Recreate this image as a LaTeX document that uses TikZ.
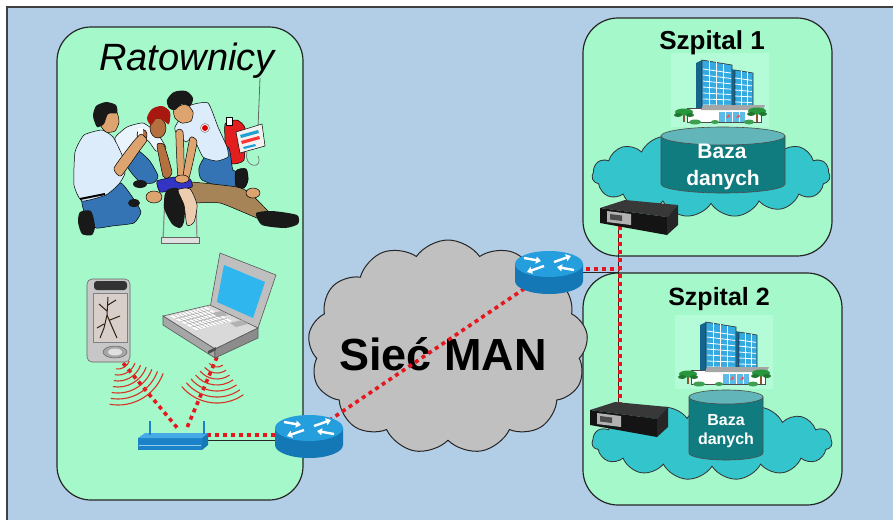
\documentclass[tikz,border=0pt]{standalone}
\usepackage{fontspec}
\setmainfont{Liberation Sans}
\usetikzlibrary{shapes.symbols,arrows.meta}

\definecolor{bgblue}{RGB}{178,205,230}
\definecolor{panelgreen}{RGB}{164,248,202}
\definecolor{paleback}{RGB}{180,252,216}
\definecolor{cloudgray}{RGB}{192,192,192}
\definecolor{tealcloud}{RGB}{52,196,204}
\definecolor{dbbody}{RGB}{16,124,128}
\definecolor{dbtop}{RGB}{98,182,186}
\definecolor{linkred}{RGB}{230,22,30}
\definecolor{wavered}{RGB}{214,52,36}
\definecolor{routertop}{RGB}{36,158,220}
\definecolor{routerside}{RGB}{20,120,182}
\definecolor{aptop}{RGB}{70,170,230}
\definecolor{apfront}{RGB}{28,130,200}
\definecolor{glass}{RGB}{52,170,225}
\definecolor{glassdark}{RGB}{20,100,140}
\definecolor{treegreen}{RGB}{40,150,60}
\definecolor{shirt}{RGB}{220,236,250}
\definecolor{pants}{RGB}{52,116,180}
\definecolor{skin}{RGB}{222,164,112}
\definecolor{skindark}{RGB}{180,112,62}
\definecolor{redhair}{RGB}{168,24,16}
\definecolor{patshirt}{RGB}{52,52,196}
\definecolor{patpants}{RGB}{166,132,88}
\definecolor{bagred}{RGB}{226,30,30}
\definecolor{screenblue}{RGB}{48,182,238}
\definecolor{pdascreen}{RGB}{216,206,202}

\tikzset{
  panel/.style={draw=black!85, line width=1.2pt, fill=panelgreen, rounded corners=35pt},
  redlink/.style={draw=linkred, line width=3.6pt, dash pattern=on 4pt off 4pt},
  wireline/.style={draw=black!85, line width=1pt},
  wave/.style={draw=wavered, line width=1.1pt},
  ink/.style={draw=black, line width=0.5pt, line join=round},
  title/.style={anchor=base, inner sep=0pt},
  dbtext/.style={anchor=base, inner sep=0pt, text=white, font=\bfseries},
  ciscorouter/.pic={
    \fill[routerside] (-34,0) -- (-34,17) arc[start angle=180,end angle=0,x radius=34,y radius=13] -- (34,0) -- cycle;
    \fill[routertop] (0,0) ellipse[x radius=34,y radius=13];
    \begin{scope}[white, line width=2.4pt, -{Triangle[length=5pt,width=7pt]}]
      \draw (-25,-6) -- (-8,-3);
      \draw (5,-2) -- (22,-8);
      \draw (-5,2) -- (-22,8);
      \draw (25,6) -- (8,3);
    \end{scope}
  },
  netswitch/.pic={
    \fill[black!78] (0,0) -- (25,-8) -- (78,-3) -- (67,9) -- cycle;
    \fill[black!92] (0,0) -- (67,9) -- (67,27) -- (0,15) -- cycle;
    \fill[black!85] (67,9) -- (78,-3) -- (78,17) -- (67,27) -- cycle;
    \fill[black!30] (7,3) -- (31,6) -- (31,17) -- (7,14) -- cycle;
    \fill[black!70] (10,6) -- (22,7.5) -- (22,13) -- (10,11.5) -- cycle;
  },
  hospital/.pic={
    \fill[paleback] (-2,-2) rectangle (96,72);
    \fill[glassdark] (23,8) -- (29,5) -- (29,53) -- (23,53) -- cycle;
    \draw[fill=glass, draw=black!80, line width=0.6pt] (29,5) -- (59,10) -- (59,53) -- (29,53) -- cycle;
    \foreach \y in {14,20,...,50} {
      \draw[white, line width=0.8pt] (30,\y) -- (58,{\y+5*(53-\y)/48});
    }
    \foreach \x in {36,43,50} {
      \draw[white, line width=0.8pt] (\x,{5+5*(\x-29)/30}) -- (\x,53);
    }
    \fill[glassdark] (59,14) -- (62,15) -- (62,53) -- (59,53) -- cycle;
    \draw[fill=glass, draw=black!80, line width=0.6pt] (62,15) -- (80,18) -- (80,53) -- (62,53) -- cycle;
    \foreach \y in {23,29,...,50} {
      \draw[white, line width=0.8pt] (62,\y) -- (79,{\y+3*(53-\y)/38});
    }
    \foreach \x in {68,74} {
      \draw[white, line width=0.8pt] (\x,{15+3*(\x-62)/18}) -- (\x,53);
    }
    \draw[fill=white, draw=black!70, line width=0.5pt] (14,53) rectangle (88,67);
    \fill[black!35] (30,50) -- (92,50) -- (90,55) -- (28,55) -- cycle;
    \fill[glass!80!white] (46,57) rectangle (72,67);
    \foreach \x in {52,59,66} {
      \draw[white, line width=0.6pt] (\x,57) -- (\x,67);
    }
    \fill[red!70] (53,63) -- (56,59) -- (57,62) -- cycle;
    \fill[red!70] (63,63) -- (66,59) -- (67,62) -- cycle;
    \draw[brown!70!black, line width=1.2pt] (11,67) -- (11,58);
    \fill[treegreen] (11,57) ellipse[x radius=9, y radius=3.5];
    \fill[treegreen!80!black] (5,60) ellipse[x radius=4, y radius=2];
    \fill[treegreen!80!black] (17,60) ellipse[x radius=4, y radius=2];
    \draw[brown!70!black, line width=1.2pt] (84,67) -- (84,57);
    \fill[treegreen] (84,56) ellipse[x radius=9, y radius=3.5];
    \fill[treegreen!80!black] (78,59) ellipse[x radius=4, y radius=2];
    \fill[treegreen!80!black] (90,59) ellipse[x radius=4, y radius=2];
    \fill[treegreen!90] (22,67) ellipse[x radius=6, y radius=2.5];
    \fill[treegreen!90] (42,67) ellipse[x radius=4, y radius=2];
    \fill[treegreen!90] (76,67) ellipse[x radius=5, y radius=2.5];
  }
}

\begin{document}
\begin{tikzpicture}[x=1pt, y=-1pt]
\useasboundingbox (0,0) rectangle (893,520);

% page and frame
\fill[white] (0,0) rectangle (893,520);
\fill[bgblue] (7,7) rectangle (893,520);
\draw[black!75, line width=1.5pt] (7,520) -- (7,7) -- (893,7);

% the three zones
\draw[panel, rounded corners=34pt] (57,27) rectangle (303,500);
\draw[panel] (583,18) rectangle (832,256);
\draw[panel] (583,273) rectangle (842,505);

% hospital buildings
\pic at (673,55) {hospital};
\pic at (677,317) {hospital};

% hospital networks with their databases
\node[cloud, cloud puffs=15, cloud puff arc=120, draw=black!80, line width=0.8pt, fill=tealcloud,
      minimum width=238pt, minimum height=84pt, inner sep=0pt] (lan1) at (711,175) {};
\draw[fill=dbbody, draw=black!70, line width=0.6pt] (661,136) -- (661,184)
      arc[start angle=180,end angle=0,x radius=62,y radius=9] -- (785,136) -- cycle;
\draw[fill=dbtop, draw=black!70, line width=0.6pt] (723,136) ellipse[x radius=62, y radius=9];
\node[dbtext, font=\bfseries\fontsize{21}{24}\selectfont] (db1a) at (722,158) {Baza};
\node[dbtext, font=\bfseries\fontsize{21}{24}\selectfont] (db1b) at (723,185) {danych};

\node[cloud, cloud puffs=15, cloud puff arc=120, draw=black!80, line width=0.8pt, fill=tealcloud,
      minimum width=240pt, minimum height=76pt, inner sep=0pt] (lan2) at (712,442) {};
\draw[fill=dbbody, draw=black!70, line width=0.6pt] (689,397) -- (689,453)
      arc[start angle=180,end angle=0,x radius=37,y radius=7] -- (763,397) -- cycle;
\draw[fill=dbtop, draw=black!70, line width=0.6pt] (726,397) ellipse[x radius=37, y radius=7];
\node[dbtext, font=\bfseries\fontsize{16}{19}\selectfont] (db2a) at (726,425) {Baza};
\node[dbtext, font=\bfseries\fontsize{16}{19}\selectfont] (db2b) at (726,444) {danych};

% metropolitan network
\node[cloud, cloud puffs=13, cloud puff arc=110, draw=black!85, line width=1pt, fill=cloudgray,
      minimum width=280pt, minimum height=214pt, inner sep=0pt] (man) at (448,347) {};
\node[title, font=\bfseries\fontsize{45}{50}\selectfont] (mantext) at (443,370) {Sieć MAN};

% connection points
\coordinate (pdatx) at (118,357);
\coordinate (laptx) at (217,357);
\coordinate (aprx1) at (179,430);
\coordinate (aprx2) at (186,430);
\coordinate (apport) at (207,435);
\coordinate (r1port) at (280,435);
\coordinate (apwire) at (207,440);
\coordinate (r1wire) at (278,440);
\coordinate (r1) at (309,434);
\coordinate (r2) at (549,272);
\coordinate (r2port) at (578,269);
\coordinate (hub) at (620,269);
\coordinate (r2wire) at (578,272);
\coordinate (hubwire) at (618,272);
\coordinate (sw1port) at (620,226);
\coordinate (sw2port) at (620,410);
\coordinate (sw1wire) at (618,226);
\coordinate (sw2wire) at (618,410);

% links
\draw[wireline] (apwire) -- (r1wire);
\draw[wireline] (r2wire) -- (hubwire);
\draw[wireline] (sw1wire) -- (sw2wire);
\draw[redlink] (pdatx) -- (aprx1);
\draw[redlink] (laptx) -- (aprx2);
\draw[redlink] (apport) -- (r1port);
\draw[redlink] (r1) -- (r2);
\draw[redlink] (r2port) -- (hub);
\draw[redlink] (sw1port) -- (sw2port);

% radio waves
\foreach \r in {12,18,...,48} {
  \draw[wave] (pdatx) ++(20:\r) arc[start angle=20, end angle=100, radius=\r];
}
\foreach \r in {10,16,...,46} {
  \draw[wave] (laptx) ++(55:\r) arc[start angle=55, end angle=140, radius=\r];
}

% routers and switches
\pic at (309,428) {ciscorouter};
\pic at (549,264) {ciscorouter};
\pic at (600,208) {netswitch};
\pic at (590,410) {netswitch};

% wireless access point
\fill[apfront] (138,438) -- (202,438) -- (202,450) -- (138,450) -- cycle;
\fill[aptop] (145,433) -- (208,433) -- (202,438) -- (138,438) -- cycle;
\fill[routerside] (202,438) -- (208,433) -- (208,445) -- (202,450) -- cycle;
\draw[aptop!60!white, line width=0.8pt] (139,445) -- (201,445);
\draw[apfront, line width=1.4pt] (150,435) -- (150,421);
\draw[apfront, line width=1.4pt] (204,434) -- (204,421);

% handheld
\draw[fill=black!22, draw=black!60, line width=0.6pt, rounded corners=5pt] (87,279) rectangle (130,362);
\fill[black!80, rounded corners=3pt] (94,281) rectangle (127,290);
\draw[fill=pdascreen, draw=black!50, line width=0.5pt] (93,293) rectangle (127,342);
\draw[black!75!brown, line width=1pt, line join=round]
  (108,297) -- (107,315) -- (104,328) -- (100,338)
  (107,315) -- (113,329) -- (117,338)
  (104,324) -- (97,328)
  (108,305) -- (116,300)
  (107,311) -- (99,304)
  (110,320) -- (120,316);
\draw[fill=black!35, draw=black!60, line width=0.5pt] (115,352) ellipse[x radius=12, y radius=6];
\fill[black!12] (115,352) ellipse[x radius=7, y radius=3.5];

% laptop
\draw[fill=black!25, draw=black!65, line width=0.6pt] (220,253) -- (276,275) -- (258,328) -- (210,308) -- cycle;
\fill[screenblue] (224,265) -- (265,282) -- (253,318) -- (217,302) -- cycle;
\draw[fill=black!15, draw=black!65, line width=0.6pt] (163,316) -- (210,305) -- (258,328) -- (215,349) -- cycle;
\draw[fill=black!35, draw=black!65, line width=0.6pt] (163,316) -- (215,349) -- (215,358) -- (163,325) -- cycle;
\draw[fill=black!45, draw=black!65, line width=0.6pt] (215,349) -- (258,328) -- (258,338) -- (215,358) -- cycle;
\fill[white] (170,316) -- (206,307) -- (232,321) -- (196,330) -- cycle;
\foreach \t in {0.2,0.4,0.6,0.8} {
  \draw[black!35, line width=0.5pt] ({170+26*\t},{316+14*\t}) -- ({206+26*\t},{307+14*\t});
}
\foreach \s in {0.1,0.2,...,0.9} {
  \draw[black!35, line width=0.5pt] ({170+36*\s},{316-9*\s}) -- ({196+36*\s},{330-9*\s});
}
\fill[black!30] (212,313) -- (222,311) -- (228,315) -- (218,317) -- cycle;
\fill[black!30] (230,323) -- (242,320) -- (248,324) -- (236,327) -- cycle;
\fill[black!70] (208,351) -- (216,347) -- (216,350) -- (208,354) -- cycle;

% rescue scene: kit with antenna
\draw[black!60, line width=0.8pt] (260,78) -- (258,128);
\draw[ink, fill=bagred] plot[smooth cycle, tension=0.3] coordinates {(225,124) (237,120) (245,128) (244,160) (232,164) (226,155)};
\draw[ink, fill=white] (226,117) rectangle (232,125);
\draw[ink, fill=black!5] (236,132) -- (262,124) -- (265,146) -- (240,153) -- cycle;
\fill[cyan!70!teal] (240,135) -- (258,130) -- (259,133) -- (241,138) -- cycle;
\fill[red!80] (241,141) -- (259,136) -- (260,139) -- (242,144) -- cycle;
\fill[cyan!70!teal] (243,147) -- (255,144) -- (256,146) -- (244,149) -- cycle;
\draw[black!50, line width=0.8pt] (247,152) .. controls (243,168) and (264,170) .. (258,156);

% medic doing compressions
\draw[ink, fill=pants] plot[smooth cycle, tension=0.4] coordinates {(206,156) (228,147) (233,170) (244,173) (244,187) (227,188) (202,180) (199,168)};
\draw[ink, fill=black!90] plot[smooth cycle, tension=0.5] coordinates {(236,171) (246,169) (248,180) (244,188) (236,186)};
\draw[ink, fill=shirt] plot[smooth cycle, tension=0.3] coordinates {(175,127) (189,106) (208,103) (218,127) (227,147) (228,157) (217,161) (203,157) (193,137) (186,142) (177,134)};
\draw[draw=black!60, fill=white] (205,128) circle[radius=4.5];
\fill[red!85!black] (205,128) circle[radius=3];
\draw[ink, fill=skin] plot[smooth cycle, tension=0.4] coordinates {(174,109) (186,104) (193,112) (191,121) (182,123) (175,118)};
\fill[black!90] plot[smooth cycle, tension=0.5] coordinates {(167,100) (174,92) (186,91) (193,98) (190,106) (182,104) (175,110) (169,108)};

% medic with red hair
\draw[ink, fill=pants] plot[smooth cycle, tension=0.4] coordinates {(124,155) (134,148) (149,160) (158,176) (153,183) (140,182) (128,168)};
\fill[black!90] (140,184) ellipse[x radius=7, y radius=4];
\draw[ink, fill=shirt!60!white] plot[smooth cycle, tension=0.3] coordinates {(115,138) (127,127) (143,123) (157,133) (166,148) (156,151) (147,140) (134,152) (120,155)};
\draw[ink, fill=skindark] plot[smooth cycle, tension=0.3] coordinates {(157,145) (164,145) (172,172) (168,178) (163,176)};
\draw[ink, fill=skindark] (158,128) ellipse[x radius=8, y radius=10];
\fill[redhair] plot[smooth cycle, tension=0.5] coordinates {(147,118) (152,109) (162,106) (170,112) (169,124) (164,121) (157,118) (151,125)};
\draw[ink, fill=skindark] (142,135) ellipse[x radius=5, y radius=6];
\fill[white] (138,128) rectangle (143,137);

% patient
\draw[ink, fill=patpants] plot[smooth cycle, tension=0.3] coordinates {(170,187) (190,182) (237,187) (250,193) (267,210) (273,217) (273,222) (257,218) (220,203) (190,203) (177,200)};
\fill[black!90] plot[smooth cycle, tension=0.4] coordinates {(256,213) (272,211) (297,215) (298,224) (285,228) (262,225)};
\draw[ink, fill=patshirt] plot[smooth cycle, tension=0.3] coordinates {(157,181) (175,177) (190,179) (192,187) (175,190) (160,192)};
\draw[ink, fill=skin] (154,197) ellipse[x radius=8, y radius=6];
\draw[ink, fill=skin] (253,193) ellipse[x radius=7, y radius=5];
\draw[black!45, line width=1.2pt] (165,195) -- (163,240);
\draw[black!45, line width=1.2pt] (196,198) -- (197,240);
\draw[black!45, line width=1pt] (165,207) -- (196,207);
\draw[fill=black!12, draw=black!60, line width=0.5pt] (161,237) rectangle (199,243);
\fill[black!90] plot[smooth cycle, tension=0.4] coordinates {(166,191) (177,188) (185,200) (184,222) (180,228) (172,224) (164,208)};
\draw[ink, fill=skin!55!white] plot[smooth cycle, tension=0.4] coordinates {(178,190) (190,189) (197,205) (194,222) (187,225) (184,205)};

% compression arms
\draw[ink, fill=skin] plot[smooth cycle, tension=0.3] coordinates {(176,132) (183,132) (184,176) (178,178)};
\draw[ink, fill=skin] plot[smooth cycle, tension=0.3] coordinates {(190,138) (197,142) (189,178) (183,177)};
\draw[ink, fill=skin] (182,179) ellipse[x radius=7, y radius=4];

% kneeling medic in front
\draw[ink, fill=pants] plot[smooth cycle, tension=0.3] coordinates {(82,198) (107,193) (121,183) (133,198) (141,212) (134,223) (112,226) (96,228) (86,218)};
\fill[black!90] plot[smooth cycle, tension=0.4] coordinates {(80,212) (91,211) (95,226) (92,235) (82,234) (78,222)};
\fill[black!90] (134,203) ellipse[x radius=6, y radius=4];
\draw[ink, fill=shirt] plot[smooth cycle, tension=0.3] coordinates {(75,152) (84,135) (102,130) (113,137) (122,155) (125,173) (119,184) (106,195) (82,201) (74,185)};
\draw[black, line width=2pt] (80,199) -- (105,194);
\draw[ink, fill=skin] plot[smooth cycle, tension=0.3] coordinates {(114,168) (133,142) (141,134) (147,140) (140,150) (121,176)};
\draw[ink, fill=skin] plot[smooth cycle, tension=0.4] coordinates {(103,112) (116,111) (119,122) (115,131) (106,132) (100,124)};
\fill[black!90] plot[smooth cycle, tension=0.4] coordinates {(93,116) (96,106) (106,102) (116,105) (117,113) (108,114) (104,124) (97,127)};

% zone titles
\node[title, font=\itshape\fontsize{38}{44}\selectfont] (teamtitle) at (187,70) {Ratownicy};
\node[title, font=\bfseries\fontsize{26}{30}\selectfont] (h1title) at (712,49) {Szpital 1};
\node[title, font=\bfseries\fontsize{25}{29}\selectfont] (h2title) at (719,305) {Szpital 2};
\end{tikzpicture}
\end{document}
